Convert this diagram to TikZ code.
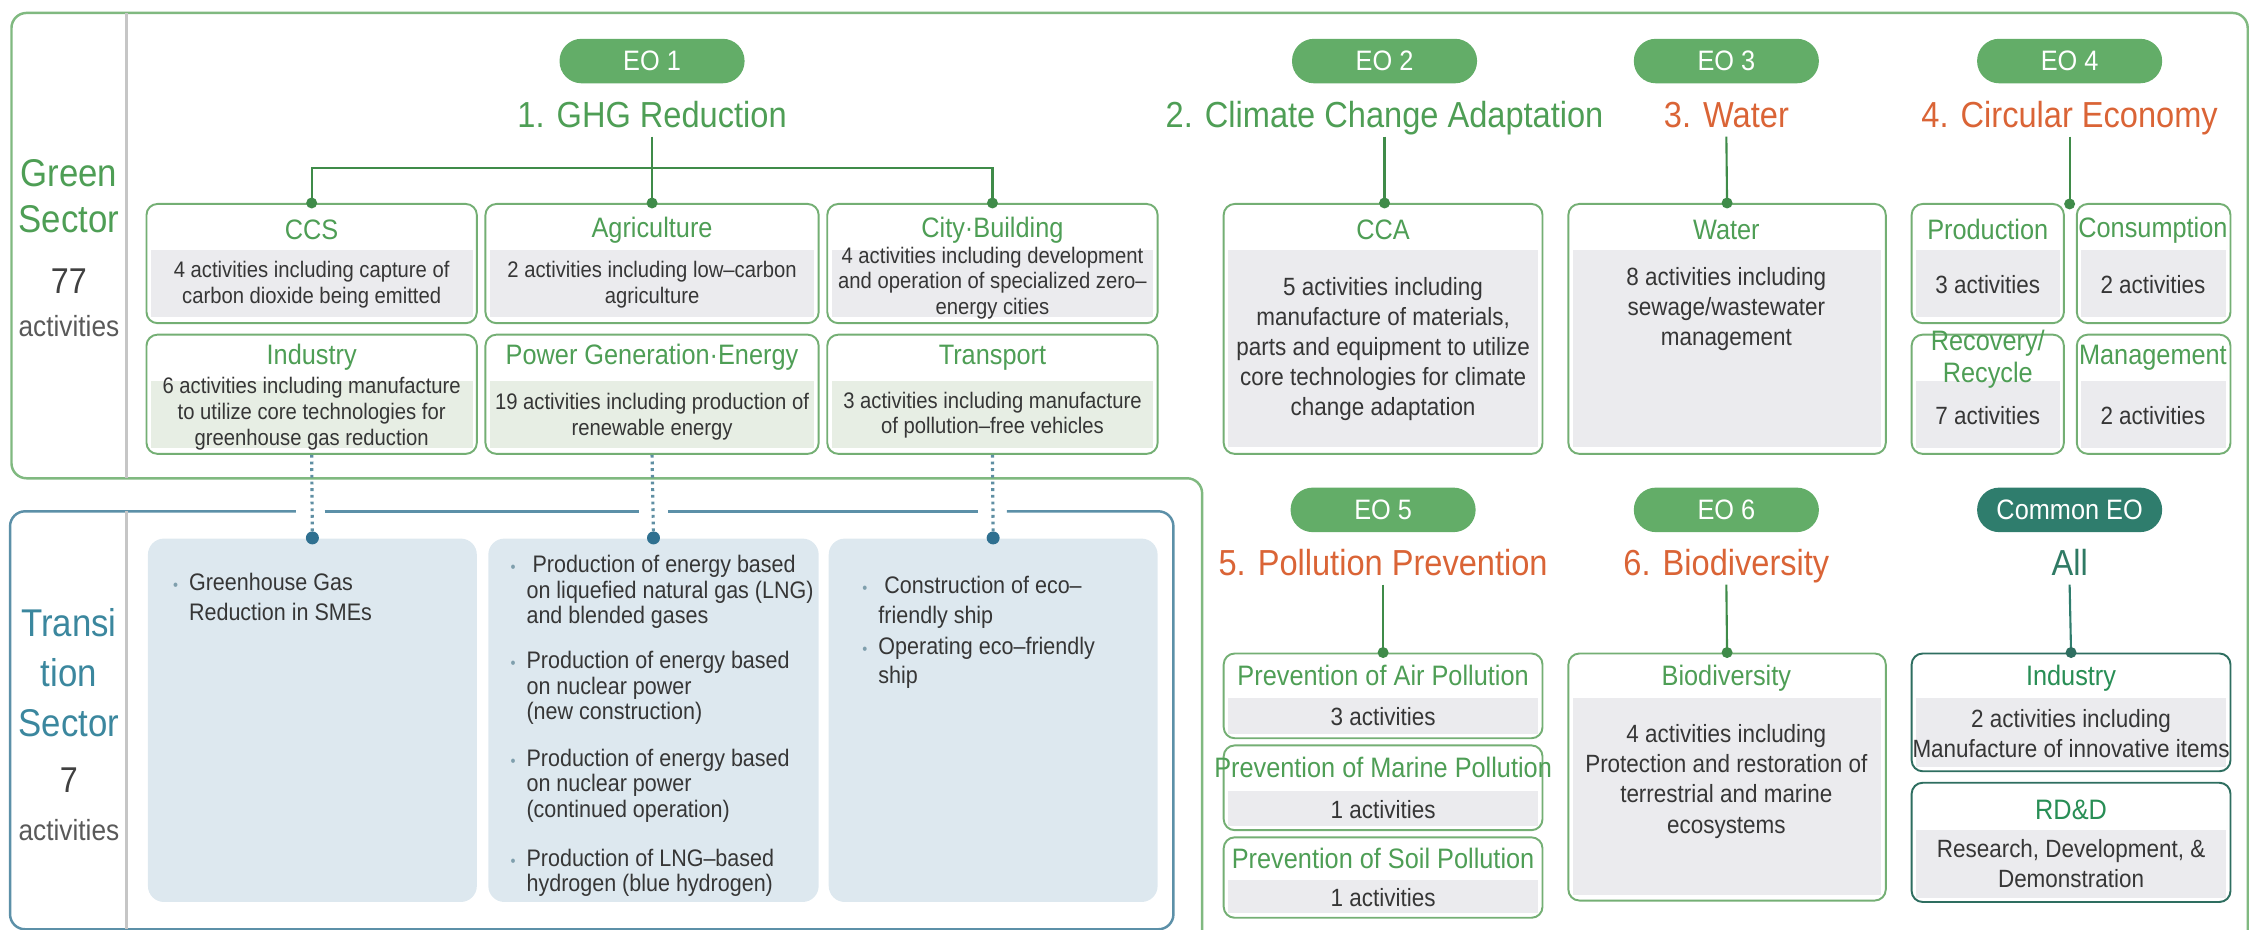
\documentclass[tikz,border=0pt]{standalone}
\usepackage{fontspec}
\setmainfont{Liberation Sans}[FakeStretch=0.9]
\usepackage{xcolor}
\usetikzlibrary{positioning}
\usetikzlibrary{fit}

\definecolor{frameg}{HTML}{80B980}
\definecolor{boxg}{HTML}{74AF74}
\definecolor{pillg}{HTML}{63AD68}
\definecolor{titleg}{HTML}{4E9E55}
\definecolor{dotg}{HTML}{3F8B49}
\definecolor{orng}{HTML}{DA6436}
\definecolor{bodygray}{HTML}{EBEBEE}
\definecolor{bodygreen}{HTML}{E7EEE4}
\definecolor{transbg}{HTML}{DDE8EF}
\definecolor{frameb}{HTML}{5C90A8}
\definecolor{transtxt}{HTML}{3B879E}
\definecolor{dotb}{HTML}{2F7090}
\definecolor{hopc}{HTML}{5F8FA3}
\definecolor{bulc}{HTML}{7F9FAD}
\definecolor{tealp}{HTML}{2F7D6D}
\definecolor{tealt}{HTML}{2F7A64}
\definecolor{tealbox}{HTML}{2E6E60}
\definecolor{divgray}{HTML}{C6C6C6}
\definecolor{txt}{HTML}{363636}

\newcommand{\titlefont}{\fontsize{10.3}{12}\selectfont}
\newcommand{\sidefont}{\fontsize{11}{12.6}\selectfont}
\newcommand{\pillfont}{\fontsize{8}{9}\selectfont}
\newcommand{\headfont}{\fontsize{8}{9}\selectfont}
\newcommand{\bodyfont}{\fontsize{7.1}{8.6}\selectfont}
\newcommand{\smallbody}{\fontsize{6.4}{7.3}\selectfont}
\newcommand{\bul}{\makebox[1.6mm][l]{\textcolor{bulc}{\fontsize{4.5}{4.5}\selectfont\textbullet}}}
\newcommand{\ind}{\hspace*{1.6mm}}

\begin{document}
\begin{tikzpicture}[
    x=0.1436mm, y=-0.1436mm,
    gframe/.style={draw=frameg, line width=0.7pt, rounded corners=1.5mm},
    bframe/.style={draw=frameb, line width=0.7pt, rounded corners=1.5mm},
    divider/.style={draw=divgray, line width=0.9pt},
    gbox/.style={draw=boxg, line width=0.55pt, rounded corners=1.1mm, fill=white, inner sep=0},
    cbox/.style={gbox, draw=tealbox},
    tbox/.style={fill=transbg, rounded corners=1.6mm, inner sep=0},
    pill/.style={fill=pillg, rounded corners=2.2mm, minimum width=18.5mm, minimum height=4.45mm, inner sep=0, text=white, font=\pillfont},
    eotitle/.style={font=\titlefont, text=titleg, inner sep=0, anchor=base, text height=2.7mm, text depth=0.8mm},
    head/.style={font=\headfont, text=titleg, inner sep=0, align=center},
    body/.style={font=\bodyfont, text=txt, inner sep=0, align=center},
    sbody/.style={body, font=\smallbody},
    item/.style={font=\fontsize{6.8}{8.4}\selectfont, text=txt, inner sep=0, align=left, anchor=base west},
    side/.style={font=\sidefont, inner sep=0, anchor=base},
    link/.style={draw=dotg, line width=0.6pt},
    hop/.style={draw=hopc, line width=0.9pt, dash pattern=on 0.8pt off 1.1pt}
]
    \useasboundingbox (0,0) rectangle (1568,647);

    % Frames
    \draw[gframe] (837,660) -- (837,333) -- (8,333) -- (8,9) -- (1565,9) -- (1565,660);
    \draw[bframe] (206,356) -- (7,356) -- (7,647) -- (817,647) -- (817,356) -- (701,356);
    \draw[bframe] (226,356) -- (445,356);
    \draw[bframe] (465,356) -- (681,356);
    \draw[divider] (88,9) -- (88,333);
    \draw[divider] (88,356) -- (88,647);

    % Sector labels
    \node[side, text=titleg] (gs1) at (48,130) {Green};
    \node[side, text=titleg] (gs2) at (48,162) {Sector};
    \node[side, text=black!75, font=\fontsize{10.2}{12}\selectfont] (gs3) at (48,204) {77};
    \node[side, text=black!65, font=\fontsize{8.3}{10}\selectfont] (gs4) at (48,234) {activities};
    \node[side, text=transtxt] (ts1) at (48,443) {Transi};
    \node[side, text=transtxt] (ts2) at (48,478) {tion};
    \node[side, text=transtxt] (ts3) at (48,513) {Sector};
    \node[side, text=black!75, font=\fontsize{10.2}{12}\selectfont] (ts4) at (48,552) {7};
    \node[side, text=black!65, font=\fontsize{8.3}{10}\selectfont] (ts5) at (48,585) {activities};

    % EO 1: GHG reduction
    \node[pill] (eo1) at (454,42.5) {EO 1};
    \node[eotitle] (t1) at (454,89) {1. GHG Reduction};
    \coordinate (ghgbar) at (454,117);

    \node[gbox, fit={(102,142) (332,225)}] (ccs) {};
    \node[gbox, fit={(338,142) (570,225)}] (agri) {};
    \node[gbox, fit={(576,142) (806,225)}] (city) {};
    \node[gbox, fit={(102,233) (332,316)}] (ind) {};
    \node[gbox, fit={(338,233) (570,316)}] (power) {};
    \node[gbox, fit={(576,233) (806,316)}] (trans) {};
    \fill[bodygray] (105,174) rectangle (329,221);
    \fill[bodygray] (341,174) rectangle (567,221);
    \fill[bodygray] (579,174) rectangle (803,221);
    \fill[bodygreen] (105,265) rectangle (329,312);
    \fill[bodygreen] (341,265) rectangle (567,312);
    \fill[bodygreen] (579,265) rectangle (803,312);

    \node[head] (ccsh) at (217,160) {CCS};
    \node[sbody] (ccsb) at (217,198) {4 activities including capture of\\carbon dioxide being emitted};
    \node[head] (agrih) at (454,160) {Agriculture};
    \node[sbody] (agrib) at (454,198) {2 activities including low–carbon\\agriculture};
    \node[head] (cityh) at (691,160) {City·Building};
    \node[sbody] (cityb) at (691,197) {4 activities including development\\and operation of specialized zero–\\energy cities};
    \node[head] (indh) at (217,249) {Industry};
    \node[sbody] (indb) at (217,288) {6 activities including manufacture\\to utilize core technologies for\\greenhouse gas reduction};
    \node[head] (powerh) at (454,249) {Power Generation·Energy};
    \node[sbody] (powerb) at (454,290) {19 activities including production of\\renewable energy};
    \node[head] (transh) at (691,249) {Transport};
    \node[sbody] (transb) at (691,289) {3 activities including manufacture\\of pollution–free vehicles};

    \draw[link] (t1.south) -- (agri.north);
    \draw[link] (ccs.north) |- (ghgbar) -| (city.north);
    \fill[dotg] (ccs.north) circle (0.55mm);
    \fill[dotg] (agri.north) circle (0.55mm);
    \fill[dotg] (city.north) circle (0.55mm);

    % EO 2: adaptation
    \node[pill] (eo2) at (964,42.5) {EO 2};
    \node[eotitle] (t2) at (964,89) {2. Climate Change Adaptation};
    \node[gbox, fit={(852,142) (1074,316)}] (cca) {};
    \fill[bodygray] (855,174) rectangle (1071,311);
    \node[head] (ccah) at (963,160) {CCA};
    \node[body] (ccab) at (963,243) {5 activities including\\manufacture of materials,\\parts and equipment to utilize\\core technologies for climate\\change adaptation};
    \draw[link] (t2.south) -- (t2.south |- cca.north);
    \fill[dotg] (t2.south |- cca.north) circle (0.55mm);

    % EO 3: water
    \node[pill] (eo3) at (1202,42.5) {EO 3};
    \node[eotitle, text=orng] (t3) at (1202,89) {3. Water};
    \node[gbox, fit={(1092,142) (1313,316)}] (water) {};
    \fill[bodygray] (1095,174) rectangle (1310,311);
    \node[head] (waterh) at (1202,160) {Water};
    \node[body] (waterb) at (1202,215) {8 activities including\\sewage/wastewater\\management};
    \draw[link] (t3.south) -- (water.north);
    \fill[dotg] (water.north) circle (0.55mm);

    % EO 4: circular economy
    \node[pill] (eo4) at (1441,42.5) {EO 4};
    \node[eotitle, text=orng] (t4) at (1441,89) {4. Circular Economy};
    \node[gbox, fit={(1331,142) (1437,225)}] (prod) {};
    \node[gbox, fit={(1446,142) (1553,225)}] (cons) {};
    \node[gbox, fit={(1331,233) (1437,316)}] (recov) {};
    \node[gbox, fit={(1446,233) (1553,316)}] (mgmt) {};
    \fill[bodygray] (1334,174) rectangle (1434,221);
    \fill[bodygray] (1449,174) rectangle (1550,221);
    \fill[bodygray] (1334,265) rectangle (1434,312);
    \fill[bodygray] (1449,265) rectangle (1550,312);
    \node[head] (prodh) at (1384,160) {Production};
    \node[body] (prodb) at (1384,198) {3 activities};
    \node[head] (consh) at (1499,160) {Consumption};
    \node[body] (consb) at (1499,198) {2 activities};
    \node[head] (recovh) at (1384,250) {Recovery/\\Recycle};
    \node[body] (recovb) at (1384,289) {7 activities};
    \node[head] (mgmth) at (1499,249) {Management};
    \node[body] (mgmtb) at (1499,289) {2 activities};
    \coordinate (cejoin) at (1441,142);
    \draw[link] (t4.south) -- (cejoin);
    \fill[dotg] (cejoin) circle (0.55mm);

    % Transition sector (base anchor = last line)
    \node[tbox, fit={(103,375) (332,628)}] (tr1) {};
    \node[tbox, fit={(340,375) (570,628)}] (tr2) {};
    \node[tbox, fit={(577,375) (806,628)}] (tr3) {};
    \node[item] (tr1a) at (120,432) {\bul Greenhouse Gas\\\ind Reduction in SMEs};
    \node[item, font=\fontsize{6.8}{7.2}\selectfont] (tr2a) at (355,434) {\bul\ Production of energy based\\\ind on liquefied natural gas (LNG)\\\ind and blended gases};
    \node[item, font=\fontsize{6.8}{7.2}\selectfont] (tr2b) at (355,501) {\bul Production of energy based\\\ind on nuclear power\\\ind (new construction)};
    \node[item, font=\fontsize{6.8}{7.2}\selectfont] (tr2c) at (355,569) {\bul Production of energy based\\\ind on nuclear power\\\ind (continued operation)};
    \node[item, font=\fontsize{6.8}{7.2}\selectfont] (tr2d) at (355,621) {\bul Production of LNG–based\\\ind hydrogen (blue hydrogen)};
    \node[item] (tr3a) at (600,434) {\bul\ Construction of eco–\\\ind friendly ship};
    \node[item] (tr3b) at (600,476) {\bul Operating eco–friendly\\\ind ship};

    \draw[hop] (ind.south) -- (tr1.north);
    \draw[hop] (power.south) -- (tr2.north);
    \draw[hop] (trans.south) -- (tr3.north);
    \fill[dotb] (tr1.north) circle (0.65mm);
    \fill[dotb] (tr2.north) circle (0.65mm);
    \fill[dotb] (tr3.north) circle (0.65mm);

    % EO 5: pollution prevention
    \node[pill] (eo5) at (963,355) {EO 5};
    \node[eotitle, text=orng] (t5) at (963,401) {5. Pollution Prevention};
    \node[gbox, fit={(852,455) (1074,514)}] (air) {};
    \node[gbox, fit={(852,519) (1074,578)}] (marine) {};
    \node[gbox, fit={(852,583) (1074,639)}] (soil) {};
    \fill[bodygray] (855,486) rectangle (1071,511);
    \fill[bodygray] (855,551) rectangle (1071,575);
    \fill[bodygray] (855,613) rectangle (1071,636);
    \node[head] (airh) at (963,470) {Prevention of Air Pollution};
    \node[body] (airb) at (963,499) {3 activities};
    \node[head] (marineh) at (963,534) {Prevention of Marine Pollution};
    \node[body] (marineb) at (963,564) {1 activities};
    \node[head] (soilh) at (963,598) {Prevention of Soil Pollution};
    \node[body] (soilb) at (963,625) {1 activities};
    \draw[link] (t5.south) -- (air.north);
    \fill[dotg] (air.north) circle (0.55mm);

    % EO 6: biodiversity
    \node[pill] (eo6) at (1202,355) {EO 6};
    \node[eotitle, text=orng] (t6) at (1202,401) {6. Biodiversity};
    \node[gbox, fit={(1092,455) (1313,627)}] (bio) {};
    \fill[bodygray] (1095,486) rectangle (1310,623);
    \node[head] (bioh) at (1202,472) {Biodiversity};
    \node[body] (biob) at (1202,544) {4 activities including\\Protection and restoration of\\terrestrial and marine\\ecosystems};
    \draw[link] (t6.south) -- (bio.north);
    \fill[dotg] (bio.north) circle (0.55mm);

    % Common EO
    \node[pill, fill=tealp] (eoc) at (1441,355) {Common EO};
    \node[eotitle, text=tealt] (tc) at (1441,401) {All};
    \node[cbox, fit={(1331,455) (1553,537)}] (cind) {};
    \node[cbox, fit={(1331,545) (1553,628)}] (rdd) {};
    \fill[bodygray] (1334,486) rectangle (1550,534);
    \fill[bodygray] (1334,578) rectangle (1550,625);
    \node[head, text=tealt!85!green] (cindh) at (1442,472) {Industry};
    \node[body] (cindb) at (1442,511) {2 activities including\\Manufacture of innovative items};
    \node[head, text=tealt!85!green] (rddh) at (1442,564) {RD\&D};
    \node[body] (rddb) at (1442,601) {Research, Development, \&\\Demonstration};
    \draw[link, draw=tealp] (tc.south) -- (cind.north);
    \fill[tealbox] (cind.north) circle (0.55mm);
\end{tikzpicture}
\end{document}
